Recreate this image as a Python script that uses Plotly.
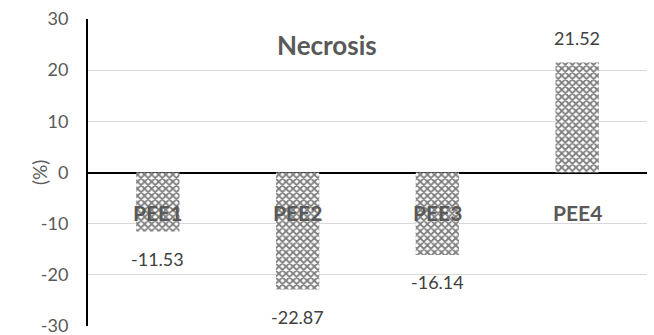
import plotly.graph_objects as go

categories = ["PEE1", "PEE2", "PEE3", "PEE4"]
values = [-11.53, -22.87, -16.14, 21.52]
value_labels = ["-11.53", "-22.87", "-16.14", "21.52"]
y_ticks = [-30, -20, -10, 0, 10, 20, 30]
y_tick_text = ["-30", "-20", "-10", "0", "10", "20", "30"]

FONT = "Lato, Open Sans, sans-serif"
GRAY = "#595959"

L, R, T, B = 88, 7, 19, 9
W, H = 654, 335
pw = W - L - R
ph = H - T - B

fig = go.Figure()
fig.add_trace(go.Bar(
    x=categories, y=values, width=0.31,
    marker=dict(color="white", line=dict(width=0),
                pattern=dict(shape="x", fgcolor="#000000", bgcolor="white",
                             size=5, solidity=0.6)),
    showlegend=False,
))

# value labels
for c, v, t in zip(categories, values, value_labels):
    fig.add_annotation(x=c, y=v, xref="x", yref="y", text=t, showarrow=False,
                       yanchor="middle", yshift=(24 if v > 0 else -27),
                       font=dict(family=FONT, size=18, color="#404040"))

# category labels next to the zero line
for c in categories:
    fig.add_annotation(x=c, y=0, xref="x", yref="y", text=f"<b>{c}</b>",
                       showarrow=False, yanchor="middle", yshift=-40,
                       font=dict(family=FONT, size=21, color=GRAY))

fig.add_annotation(x=(327 - L) / pw, y=1 - (45 - T) / ph, xref="paper", yref="paper",
                   text="<b>Necrosis</b>", showarrow=False, yanchor="middle",
                   font=dict(family=FONT, size=26, color=GRAY))

fig.add_annotation(x=(26 - L) / pw, y=0.5, xref="paper", yref="paper", text="(%)",
                   textangle=-90, showarrow=False,
                   font=dict(family=FONT, size=19, color=GRAY))

fig.update_layout(
    width=W, height=H,
    margin=dict(l=L, r=R, t=T, b=B, autoexpand=False),
    paper_bgcolor="white", plot_bgcolor="white",
    xaxis=dict(showticklabels=False, showgrid=False, zeroline=False, showline=False,
               ticks="", automargin=False),
    yaxis=dict(range=[-30, 30], tickvals=y_ticks, ticktext=y_tick_text,
               showgrid=True, gridcolor="#d9d9d9",
               gridwidth=1, zeroline=True, zerolinecolor="black", zerolinewidth=2,
               showline=True, linecolor="black", linewidth=2, ticks="",
               ticklabelstandoff=14, automargin=False, ticklabeloverflow="allow",
               tickfont=dict(family=FONT, size=18, color=GRAY)),
)

fig.write_html("out.html", config={"displayModeBar": False},
               post_script="document.body.style.margin='0';document.body.style.overflow='hidden';")
